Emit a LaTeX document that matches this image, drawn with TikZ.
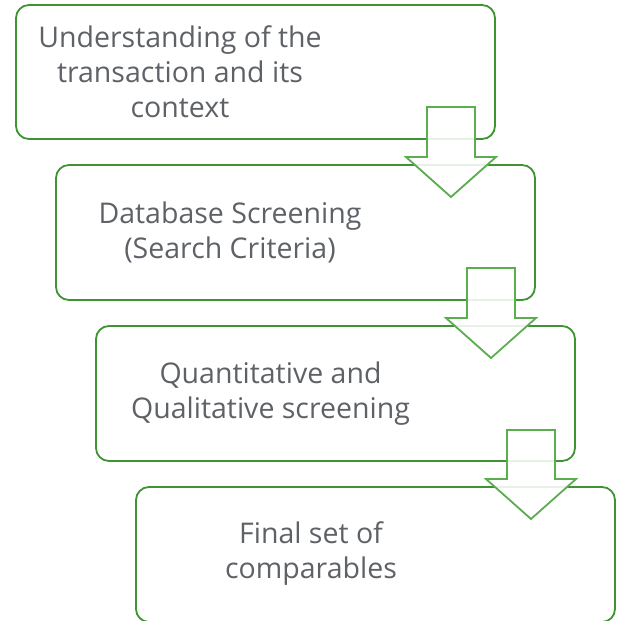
\documentclass[tikz,border=0pt]{standalone}
\usepackage{fontspec}
\setmainfont{Open Sans}
\begin{document}
\begin{tikzpicture}[x=1pt,y=-1pt,
  box/.style={draw=boxgreen,line width=1.8pt,rounded corners=13pt},
  txt/.style={text=txtgray,align=center,font=\fontsize{28.5}{35}\selectfont,inner sep=0pt},
  flow/.style={draw=arrgreen,line width=1.8pt,fill=white,fill opacity=0.88,line join=miter}]
\definecolor{boxgreen}{HTML}{3E9332}
\definecolor{arrgreen}{HTML}{5BAD4F}
\definecolor{txtgray}{HTML}{5E6166}
\useasboundingbox (0,0) rectangle (619,621);
% boxes
\draw[box] (16,5) rectangle (495,139);
\draw[box] (56,165) rectangle (535,300);
\draw[box] (96,326) rectangle (575,461);
\draw[box] (136,487) rectangle (615,622);
% texts
\node[txt] (t1) at (180,72) {Understanding of the\\transaction and its\\context};
\node[txt] (t2) at (230,232.5) {Database Screening\\(Search Criteria)};
\node[txt] (t3) at (270.5,393.5) {Quantitative and\\Qualitative screening};
\node[txt] (t4) at (311,554) {Final set of\\comparables};
% arrows
\draw[flow] (427,107) -- (475,107) -- (475,157) -- (496,157) -- (451,197) -- (406,157) -- (427,157) -- cycle;
\draw[flow] (467,268) -- (515,268) -- (515,318) -- (536,318) -- (491,358) -- (446,318) -- (467,318) -- cycle;
\draw[flow] (507,430) -- (555,430) -- (555,479) -- (576,479) -- (531,519) -- (486,479) -- (507,479) -- cycle;
\end{tikzpicture}
\end{document}
